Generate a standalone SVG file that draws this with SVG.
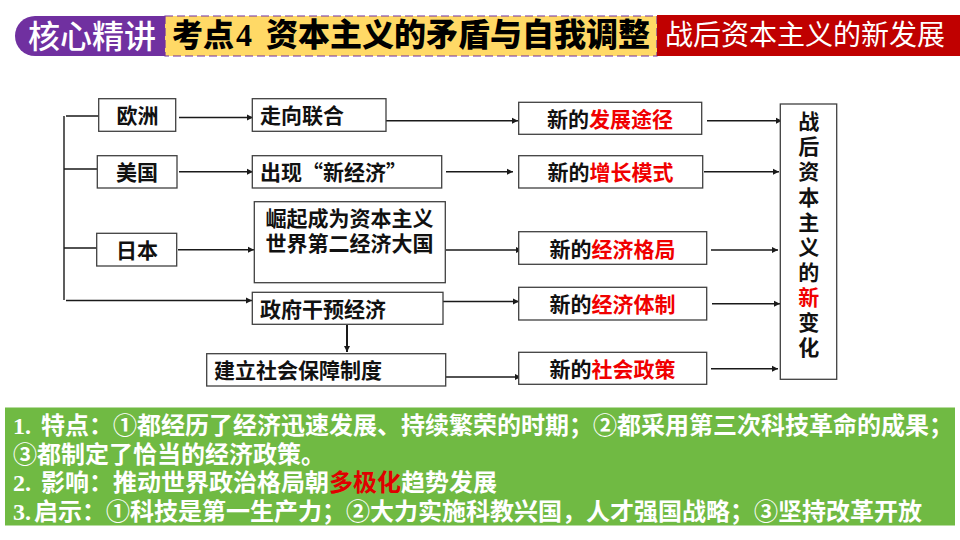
<svg xmlns="http://www.w3.org/2000/svg" width="960" height="540" viewBox="0 0 960 540">
<style>
text{font-family:"Noto Sans CJK SC","Noto Sans",sans-serif}
.box{fill:#fff;stroke:#404040;stroke-width:1.3}
.t{font-size:21px;font-weight:700;fill:#111}
.r{fill:#f00000}
.c{fill:none;stroke:#1a1a1a;stroke-width:1.4}
.a{marker-end:url(#ah)}
.g{font-family:"Liberation Serif","Noto Sans CJK SC",serif;font-size:24px;font-weight:700;fill:#fff}
.m{text-anchor:middle}
</style>
<defs>
<marker id="ah" markerUnits="userSpaceOnUse" markerWidth="7" markerHeight="7" refX="6" refY="3.5" orient="auto"><path d="M0 0.5L6 3.5L0 6.5Z" fill="#1a1a1a"/></marker>
</defs>
<rect width="960" height="540" fill="#fff"/>
<g id="header">
<path d="M165 16H35a20 20 0 0 0 0 40H165Z" fill="#7030a0"/>
<rect x="165" y="16" width="492" height="40" fill="#ffd966" stroke="#7030a0" stroke-width="1.2" stroke-dasharray="8 4"/>
<rect x="657" y="15" width="303" height="41" fill="#c00000"/>
<text x="28" y="48" font-size="32" font-weight="500" fill="#fff" textLength="128">核心精讲</text>
<text y="46" font-size="32" font-weight="900" fill="#000"><tspan x="172" font-size="31">考点</tspan><tspan x="236" style="font-family:'Liberation Serif',serif">4</tspan><tspan x="266">资本主义的矛盾与自我调整</tspan></text>
<text x="665" y="45" font-size="28" fill="#fff" textLength="280">战后资本主义的新发展</text>
</g>
<g id="connectors">
<path class="c" d="M64 116V300M66 116H99M64 169H97M64 248H97"/>
<path class="c a" d="M66 300.5H252"/>
<path class="c a" d="M179 117.5H253"/>
<path class="c a" d="M179 171.7H253"/>
<path class="c a" d="M178 249.7H254"/>
<path class="c a" d="M386 120.7H518"/>
<path class="c a" d="M446 171.7H513"/>
<path class="c a" d="M446 250H522"/>
<path class="c a" d="M443 301.5H519"/>
<path class="c a" d="M446 377H521"/>
<path class="c a" d="M707 120.7H782"/>
<path class="c a" d="M704 171.7H779"/>
<path class="c a" d="M711 250H778"/>
<path class="c a" d="M712 303.7H780"/>
<path class="c a" d="M711 368.7H778"/>
<path class="c a" style="stroke-width:2" d="M347 325V352"/>
</g>
<g id="n-europe"><rect class="box" x="98.7" y="98.7" width="77" height="32.6"/><text class="t m" x="137.5" y="123">欧洲</text></g>
<g id="n-usa"><rect class="box" x="97.3" y="155.7" width="79.7" height="32.3"/><text class="t m" x="137" y="180">美国</text></g>
<g id="n-japan"><rect class="box" x="96.7" y="233.3" width="80" height="32.7"/><text class="t m" x="137" y="258">日本</text></g>
<g id="n-union"><rect class="box" x="252.3" y="98.7" width="133.7" height="32.6"/><text class="t" x="260" y="123">走向联合</text></g>
<g id="n-neweco"><rect class="box" x="252.3" y="155.7" width="189.4" height="32.3"/><text class="t" x="260" y="180">出现“新经济”</text></g>
<g id="n-rise"><rect class="box" x="254.3" y="201.7" width="191" height="81"/><text class="t m"><tspan x="349.5" y="226">崛起成为资本主义</tspan><tspan x="349.5" y="251">世界第二经济大国</tspan></text></g>
<g id="n-gov"><rect class="box" x="252.3" y="292.3" width="190.7" height="32"/><text class="t" x="260" y="317">政府干预经济</text></g>
<g id="n-welfare"><rect class="box" x="206.7" y="353.7" width="239" height="32.3"/><text class="t" x="214" y="378">建立社会保障制度</text></g>
<g id="n-path"><rect class="box" x="518.7" y="102.3" width="183" height="32"/><text class="t m" x="610" y="127">新的<tspan class="r">发展途径</tspan></text></g>
<g id="n-growth"><rect class="box" x="518.7" y="155.7" width="184" height="32.3"/><text class="t m" x="610.5" y="180">新的<tspan class="r">增长模式</tspan></text></g>
<g id="n-pattern"><rect class="box" x="518.7" y="231.7" width="188" height="32.6"/><text class="t m" x="612.5" y="257">新的<tspan class="r">经济格局</tspan></text></g>
<g id="n-system"><rect class="box" x="518.7" y="287.3" width="188" height="32.7"/><text class="t m" x="612.5" y="312">新的<tspan class="r">经济体制</tspan></text></g>
<g id="n-social"><rect class="box" x="518.7" y="352.3" width="188" height="32"/><text class="t m" x="612.5" y="377">新的<tspan class="r">社会政策</tspan></text></g>
<g id="n-result"><rect class="box" x="780.3" y="104" width="56.4" height="275.3"/>
<text class="t m"><tspan x="808.7" y="129">战</tspan><tspan x="808.7" y="154">后</tspan><tspan x="808.7" y="179">资</tspan><tspan x="808.7" y="204.5">本</tspan><tspan x="808.7" y="229.5">主</tspan><tspan x="808.7" y="255">义</tspan><tspan x="808.7" y="280">的</tspan><tspan class="r" x="808.7" y="305">新</tspan><tspan x="808.7" y="330">变</tspan><tspan x="808.7" y="355">化</tspan></text></g>
<g id="summary">
<rect x="5" y="407.5" width="950" height="118" fill="#70ba43"/>
<text class="g" y="434"><tspan x="13">1.</tspan><tspan x="41">特点：①都经历了经济迅速发展、持续繁荣的时期；②都采用第三次科技革命的成果；</tspan></text>
<text class="g" x="13" y="463">③都制定了恰当的经济政策。</text>
<text class="g" y="491"><tspan x="13">2.</tspan><tspan x="41">影响：推动世界政治格局朝</tspan><tspan fill="#e00000">多极化</tspan>趋势发展</text>
<text class="g" y="520"><tspan x="13">3.</tspan><tspan x="34">启示：①科技是第一生产力；②大力实施科教兴国，人才强国战略；③坚持改革开放</tspan></text>
</g>
</svg>
